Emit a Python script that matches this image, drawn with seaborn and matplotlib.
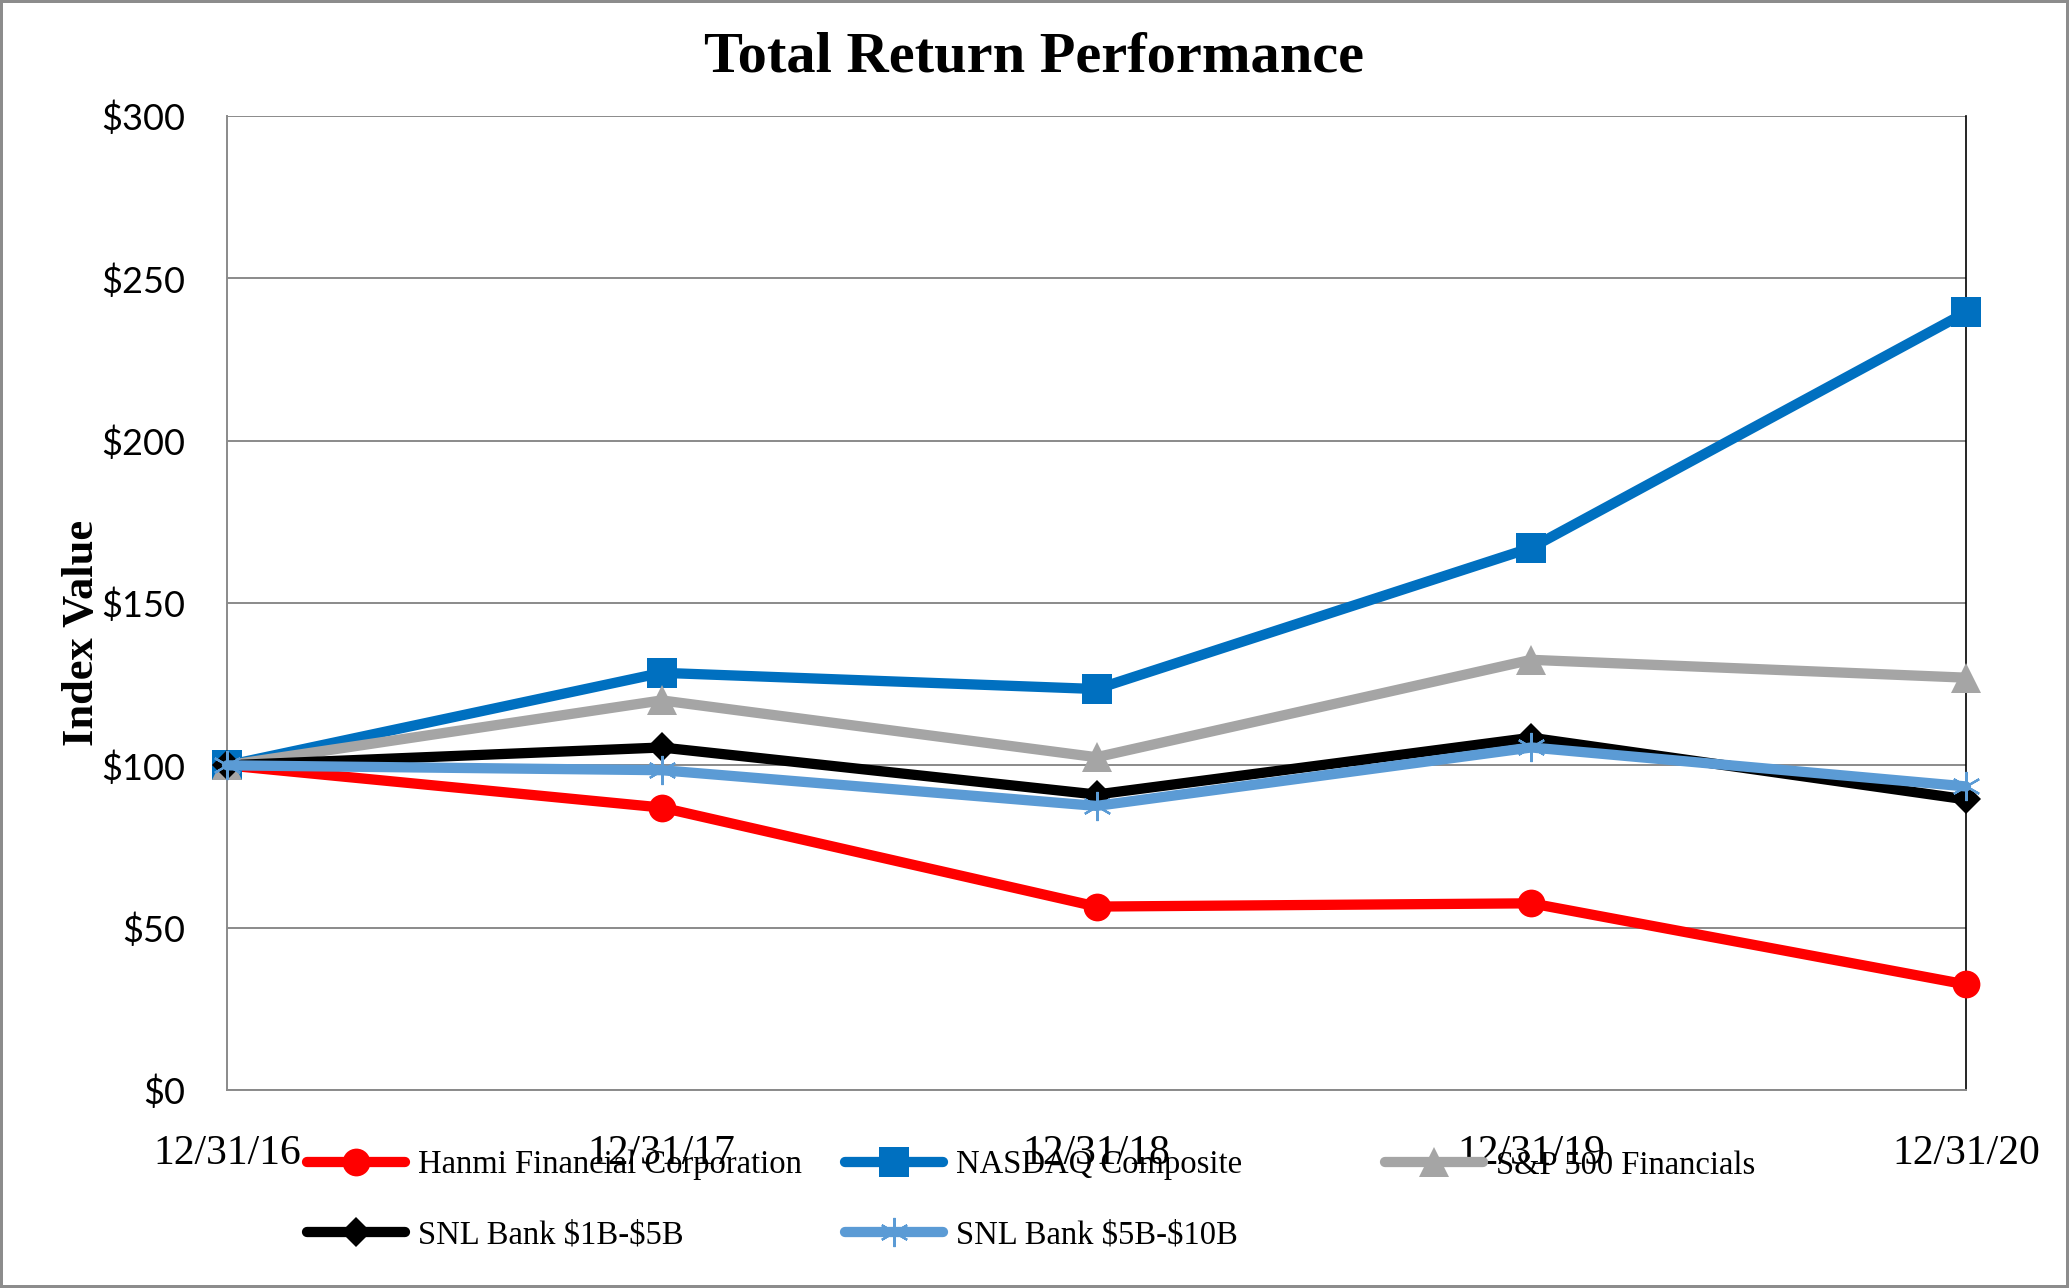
"""Total return performance line chart, redrawn with seaborn."""

import matplotlib

matplotlib.use("Agg")

import matplotlib.pyplot as plt
import seaborn as sns

DATES = ["12/31/16", "12/31/17", "12/31/18", "12/31/19", "12/31/20"]
HANMI = [100, 87, 56.5, 57.5, 32.5]
NASDAQ = [100, 128.5, 123.5, 167, 239.5]
SP500_FIN = [100, 120, 102.5, 132.5, 127]
SNL_1B_5B = [100, 105.5, 91, 108.5, 89.5]
SNL_5B_10B = [100, 98.5, 87.5, 105.5, 93.5]

NAMES = [
    "Hanmi Financial Corporation",
    "NASDAQ Composite",
    "S&P 500 Financials",
    r"SNL Bank \$1B-\$5B",
    r"SNL Bank \$5B-\$10B",
]
Y_TICKS = [0, 50, 100, 150, 200, 250, 300]
Y_TICK_LABELS = [r"\$0", r"\$50", r"\$100", r"\$150", r"\$200", r"\$250", r"\$300"]

SERIF = "Liberation Serif"
GRID = "#8a8a8a"

sns.set_theme(style="white")
plt.rcParams["font.family"] = [SERIF, "DejaVu Sans"]
plt.rcParams["text.color"] = "black"
plt.rcParams["xtick.color"] = "black"
plt.rcParams["ytick.color"] = "black"

# values, color, marker, size, edge width
series = [
    (HANMI, "#ff0000", "o", 20, 0),
    (NASDAQ, "#0070c0", "s", 21, 0),
    (SP500_FIN, "#a5a5a5", "^", 21, 0),
    (SNL_1B_5B, "#000000", "D", 15, 0),
    (SNL_5B_10B, "#5b9bd5", (6, 2, 0), 21, 1.6),
]

fig = plt.figure(figsize=(20.69, 12.88), dpi=100)
fig.patch.set_edgecolor("#8c8c8c")
fig.patch.set_linewidth(3)
ax = fig.add_axes([227 / 2069, 1 - 1090 / 1288, (1966 - 227) / 2069, (1090 - 116) / 1288])

for values, color, marker, size, mew in series:
    sns.lineplot(
        x=DATES,
        y=values,
        ax=ax,
        color=color,
        linewidth=7.4,
        marker=marker,
        markersize=size,
        markeredgecolor=color,
        markeredgewidth=mew,
        errorbar=None,
        sort=False,
        legend=False,
        clip_on=False,
        zorder=3,
    )

ax.set_xlim(0, len(DATES) - 1)
ax.set_ylim(0, 300)
ax.set_yticks(Y_TICKS)
ax.set_yticklabels(Y_TICK_LABELS, family=["Lato", "DejaVu Sans"], fontsize=26)
ax.tick_params(axis="y", length=0, pad=30)
ax.tick_params(axis="x", length=0, pad=32, labelsize=30)
ax.set_xlabel("")
ax.set_ylabel("")
ax.grid(axis="y", color=GRID, linewidth=1.4)
ax.set_axisbelow(True)
ax.spines["top"].set_visible(False)
ax.spines["left"].set_color(GRID)
ax.spines["left"].set_linewidth(1.4)
ax.spines["bottom"].set_color(GRID)
ax.spines["bottom"].set_linewidth(1.4)
ax.spines["right"].set_color("black")
ax.spines["right"].set_linewidth(1.2)

fig.text(0.5, 1 - 57 / 1288, "Total Return Performance", ha="center", va="center",
         fontsize=42, fontweight="bold")
fig.text(82 / 2069, 1 - 633 / 1288, "Index Value", ha="center", va="center",
         rotation=90, fontsize=32, fontweight="bold")

lines = ax.get_lines()
groups = [([0, 3], 307), ([1, 4], 845), ([2], 1385)]
for idx, left in groups:
    fig.legend(
        handles=[lines[i] for i in idx],
        labels=[NAMES[i] for i in idx],
        loc="upper left",
        bbox_to_anchor=(left / 2069, 1 - 1150 / 1288),
        frameon=False,
        fontsize=23.5,
        handlelength=3.0,
        handletextpad=0.4,
        labelspacing=1.2,
        borderpad=0,
        borderaxespad=0,
    )

fig.savefig("out.png", dpi=100)
